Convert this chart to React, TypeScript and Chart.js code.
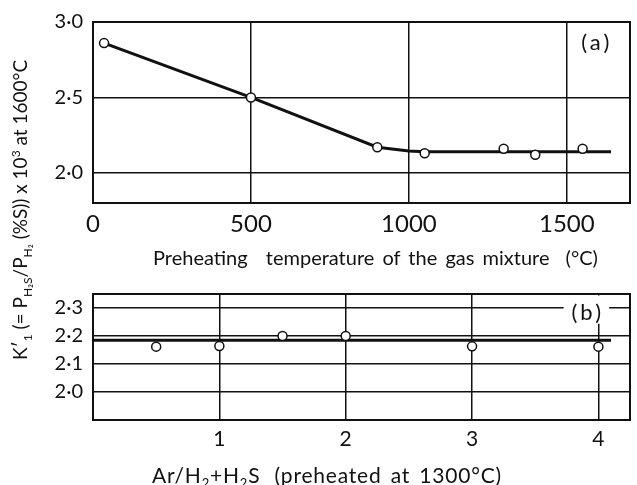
import React, { useEffect, useRef } from 'react';
import { Chart, registerables } from 'chart.js';

Chart.register(...registerables);

// ---------- Panel (a): preheating temperature ----------
const tempPoints = [35, 500, 900, 1050, 1300, 1400, 1550];
const ratioA = [2.86, 2.5, 2.17, 2.13, 2.16, 2.12, 2.16];
const fitTempX = [35, 500, 900, 1000, 1050, 1640];
const fitTempY = [2.86, 2.5, 2.17, 2.145, 2.14, 2.14];
const topXTicks = [0, 500, 1000, 1500];
const topYTicks = [2.0, 2.5, 3.0];

// ---------- Panel (b): Ar/H2+H2S ratio ----------
const arRatio = [0.5, 1, 1.5, 2, 3, 4];
const ratioB = [2.162, 2.164, 2.2, 2.2, 2.163, 2.162];
const fitArX = [0, 4.1];
const fitArY = [2.185, 2.185];
const botXTicks = [1, 2, 3, 4];
const botYTicks = [2.0, 2.1, 2.2, 2.3];

const FONT = 'Lato, "DejaVu Sans", sans-serif';
const INK = '#111';

const fmtDec = (v: number) => v.toFixed(1).replace('.', '\u00B7');

const framePlugin = {
  id: 'frame',
  afterDraw(chart: any) {
    const { ctx, chartArea: a } = chart;
    ctx.save();
    ctx.strokeStyle = INK;
    ctx.lineWidth = 2;
    ctx.strokeRect(a.left, a.top, a.right - a.left, a.bottom - a.top);
    ctx.restore();
  },
};

const makeLabelPlugin = (text: string, xv: number, yv: number, clear: boolean) => ({
  id: 'panelLabel',
  afterDatasetsDraw(chart: any) {
    const { ctx, scales, chartArea } = chart;
    const px = scales.x.getPixelForValue(xv);
    const py = scales.y.getPixelForValue(yv);
    ctx.save();
    ctx.font = `22px ${FONT}`;
    const w = ctx.measureText(text).width;
    if (clear) {
      ctx.fillStyle = '#fff';
      const top = chartArea.top + 1.5;
      ctx.fillRect(px - w / 2 - 8, top, w + 16, py + 11 - top);
    }
    ctx.fillStyle = INK;
    ctx.textAlign = 'center';
    ctx.textBaseline = 'middle';
    ctx.fillText(text, px, py);
    ctx.restore();
  },
});

function buildChart(
  canvas: HTMLCanvasElement,
  opts: {
    px: number[]; py: number[]; fx: number[]; fy: number[];
    xMin: number; xMax: number; yMin: number; yMax: number;
    xTicks: number[]; yTicks: number[];
    xFmt: (v: number) => string; yFmt: (v: number) => string;
    padTop: number; xHeight: number; xFont: number; yFont: number;
    label: any;
  }
) {
  return new Chart(canvas, {
    type: 'scatter',
    data: {
      datasets: [
        {
          data: opts.px.map((x, i) => ({ x, y: opts.py[i] })),
          showLine: false,
          pointRadius: 4.5,
          pointBackgroundColor: '#fff',
          pointBorderColor: INK,
          pointBorderWidth: 1.5,
        },
        {
          data: opts.fx.map((x, i) => ({ x, y: opts.fy[i] })),
          showLine: true,
          borderColor: INK,
          borderWidth: 3,
          pointRadius: 0,
        },
      ],
    },
    options: {
      responsive: false,
      animation: false,
      layout: { padding: { left: 0, right: 7, top: opts.padTop, bottom: 0 } },
      plugins: { legend: { display: false }, tooltip: { enabled: false } },
      scales: {
        x: {
          type: 'linear',
          min: opts.xMin,
          max: opts.xMax,
          afterBuildTicks: (s: any) => { s.ticks = opts.xTicks.map((v) => ({ value: v })); },
          afterFit: (s: any) => { s.height = opts.xHeight; },
          ticks: {
            color: INK,
            font: { family: FONT, size: opts.xFont },
            padding: 7,
            maxRotation: 0,
            callback: (v: any) => opts.xFmt(Number(v)),
          },
          grid: { color: INK, lineWidth: 1.5, drawTicks: false },
          border: { display: true, color: INK, width: 2 },
        },
        y: {
          type: 'linear',
          min: opts.yMin,
          max: opts.yMax,
          afterBuildTicks: (s: any) => { s.ticks = opts.yTicks.map((v) => ({ value: v })); },
          afterFit: (s: any) => { s.width = 93; },
          ticks: {
            color: INK,
            font: { family: FONT, size: opts.yFont },
            padding: 10,
            callback: (v: any) => opts.yFmt(Number(v)),
          },
          grid: { color: INK, lineWidth: 1.5, drawTicks: false },
          border: { display: true, color: INK, width: 2 },
        },
      },
    },
    plugins: [framePlugin, opts.label],
  });
}

export default function App() {
  const topRef = useRef<HTMLCanvasElement>(null);
  const botRef = useRef<HTMLCanvasElement>(null);

  useEffect(() => {
    document.body.style.margin = '0';
    const c1 = buildChart(topRef.current!, {
      px: tempPoints, py: ratioA, fx: fitTempX, fy: fitTempY,
      xMin: 0, xMax: 1700, yMin: 1.8, yMax: 3.0,
      xTicks: topXTicks, yTicks: topYTicks,
      xFmt: (v) => String(v), yFmt: fmtDec,
      padTop: 19, xHeight: 69, xFont: 24, yFont: 20,
      label: makeLabelPlugin('(\u2009a\u2009)', 1590, 2.86, false),
    });
    const c2 = buildChart(botRef.current!, {
      px: arRatio, py: ratioB, fx: fitArX, fy: fitArY,
      xMin: 0, xMax: 4.25, yMin: 1.9, yMax: 2.35,
      xTicks: botXTicks, yTicks: botYTicks,
      xFmt: (v) => String(v), yFmt: fmtDec,
      padTop: 9, xHeight: 65, xFont: 21, yFont: 20,
      label: makeLabelPlugin('(\u2009b\u2009)', 3.905, 2.283, true),
    });
    return () => { c1.destroy(); c2.destroy(); };
  }, []);

  const textStyle: React.CSSProperties = {
    position: 'absolute',
    whiteSpace: 'nowrap',
    fontFamily: FONT,
    fontSize: 20,
    lineHeight: '24px',
    color: INK,
  };
  const sub: React.CSSProperties = { fontSize: 13 };
  const ysub: React.CSSProperties = { fontSize: 12, lineHeight: 0 };

  return (
    <div style={{ position: 'relative', width: 637, height: 485, background: '#fff', overflow: 'hidden' }}>
      <canvas ref={topRef} width={637} height={272} style={{ position: 'absolute', left: 0, top: 0 }} />
      <canvas ref={botRef} width={637} height={213} style={{ position: 'absolute', left: 0, top: 272 }} />
      <div style={{ ...textStyle, left: 153, top: 245, wordSpacing: 3 }}>
        Preheating<span style={{ display: 'inline-block', width: 10 }} /> temperature of the gas mixture<span style={{ display: 'inline-block', width: 8 }} /> (°C)
      </div>
      <div style={{ ...textStyle, left: 152, top: 463, fontSize: 21, letterSpacing: 0.8, wordSpacing: 3 }}>
        Ar/H<sub style={sub}>2</sub>+H<sub style={sub}>2</sub>S<span style={{ display: 'inline-block', width: 5 }} /> (preheated at 1300°C)
      </div>
      <div
        style={{
          ...textStyle,
          fontSize: 19,
          width: 400,
          height: 24,
          textAlign: 'center',
          left: 20 - 200,
          top: 210 - 12,
          transform: 'rotate(-90deg)',
          transformOrigin: '50% 50%',
        }}
      >
        K′<sub style={ysub}>1</sub> (= P<sub style={ysub}>H₂S</sub>/P<sub style={ysub}>H₂</sub> (%S)) x 10<sup style={ysub}>3</sup> at 1600°C
      </div>
    </div>
  );
}
